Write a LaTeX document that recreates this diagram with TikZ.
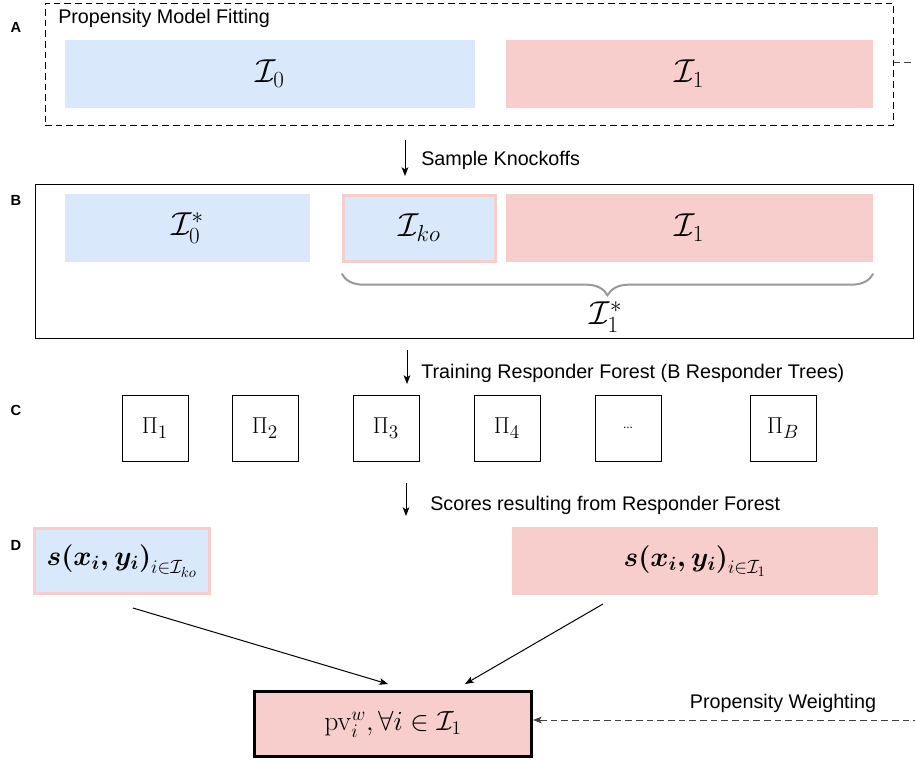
\documentclass[tikz,border=0pt]{standalone}
\usepackage[no-math]{fontspec}
\setmainfont{Liberation Sans}
\usepackage{amsmath,amssymb}
\usetikzlibrary{arrows.meta,decorations.pathreplacing}

\definecolor{kbblue}{HTML}{DAE8FC}
\definecolor{kbpink}{HTML}{F8CECC}
\definecolor{kbgrey}{HTML}{9A9A9A}

\begin{document}
\begin{tikzpicture}[x=0.75pt,y=-0.75pt,
  txt/.style={font=\fontsize{14.8}{17}\selectfont, inner sep=0pt},
  panellab/.style={font=\bfseries\fontsize{11}{13}\selectfont, inner sep=0pt},
  mathbig/.style={font=\fontsize{24}{28}\selectfont},
  bluebox/.style={fill=kbblue, draw=none, mathbig},
  pinkbox/.style={fill=kbpink, draw=none, mathbig},
  kobox/.style={fill=kbblue, draw=kbpink, line width=2.25pt, mathbig},
  pibox/.style={draw=black, line width=0.75pt, fill=white,
    minimum width=49.5pt, minimum height=49.5pt,
    font=\fontsize{19}{22}\selectfont},
  flow/.style={-{Stealth[length=6.5pt,width=5pt,inset=1.5pt]}, line width=0.75pt},
]
\clip (0,0) rectangle (915,761);
\fill[white] (0,0) rectangle (915,761);

% ---------- A: propensity model fitting ----------
\node[draw, dash pattern=on 5pt off 3pt, line width=0.75pt,
      minimum width=636pt, minimum height=91.5pt] (pA) at (469,64) {};
\node[panellab] (lA) at (16,27) {A};
\node[txt, anchor=west] (tA) at (58,18) {Propensity Model Fitting};
\node[bluebox, minimum width=307.5pt, minimum height=51pt] (a0) at (270,74) {$\mathcal{I}_0$};
\node[pinkbox, minimum width=275.25pt, minimum height=51pt] (a1) at (689.5,74) {$\mathcal{I}_1$};

% ---------- step arrow: knockoffs ----------
\coordinate (k1) at (405,140);
\coordinate (k2) at (405,176);
\draw[flow] (k1) -- (k2);
\node[txt, anchor=west] (tk) at (421,160) {Sample Knockoffs};

% ---------- B: knockoff sample ----------
\node[draw, line width=0.75pt, minimum width=658.5pt, minimum height=115.5pt] (pB) at (474,261) {};
\node[panellab] (lB) at (16,200) {B};
\node[bluebox, minimum width=183.75pt, minimum height=51pt] (b0) at (187.5,228) {$\mathcal{I}_0^*$};
\node[kobox, minimum width=114pt, minimum height=49.5pt] (bko) at (419.5,228) {$\mathcal{I}_{ko}$};
\node[pinkbox, minimum width=275.25pt, minimum height=51pt] (b1) at (689.5,228) {$\mathcal{I}_1$};
\coordinate (brL) at (342,274);
\coordinate (brR) at (873,274);
\draw[kbgrey, line width=1.5pt, line cap=round,
      decorate, decoration={brace, mirror, amplitude=16pt}] (brL) -- (brR);
\node[mathbig] (b1s) at (606,317) {$\mathcal{I}_1^*$};

% ---------- step arrow: training ----------
\coordinate (t1) at (407,350);
\coordinate (t2) at (407,384);
\draw[flow] (t1) -- (t2);
\node[txt, anchor=west] (tt) at (421,373) {Training Responder Forest (B Responder Trees)};

% ---------- C: responder trees ----------
\node[panellab] (lC) at (16,410) {C};
\node[pibox] (c1) at (155,428) {$\Pi_1$};
\node[pibox] (c2) at (265,428) {$\Pi_2$};
\node[pibox] (c3) at (386,428) {$\Pi_3$};
\node[pibox] (c4) at (507,428) {$\Pi_4$};
\node[pibox] (c5) at (628,428) {\fontsize{9}{10}\selectfont ...};
\node[pibox] (cB) at (783,428) {$\Pi_B$};

% ---------- step arrow: scores ----------
\coordinate (s1) at (406,483);
\coordinate (s2) at (406,516);
\draw[flow] (s1) -- (s2);
\node[txt, anchor=west] (ts) at (430,505) {Scores resulting from Responder Forest};

% ---------- D: scores and weighted p-values ----------
\node[panellab] (lD) at (16,545) {D};
\node[kobox, minimum width=131.25pt, minimum height=48.75pt, inner sep=1pt,
      font=\fontsize{21}{25}\selectfont] (dko) at (122,561)
  {$\boldsymbol{s(x_i,y_i)}_{i\in\mathcal{I}_{ko}}$};
\node[pinkbox, minimum width=274.5pt, minimum height=51pt,
      font=\fontsize{21}{25}\selectfont] (d1) at (695,561)
  {$\boldsymbol{s(x_i,y_i)}_{i\in\mathcal{I}_1}$};

\node[fill=kbpink, draw=black, line width=2.25pt, minimum width=207.75pt, minimum height=48.75pt,
      font=\fontsize{20}{24}\selectfont] (pv) at (393,724)
  {$\mathrm{pv}_i^w, \forall i \in \mathcal{I}_1$};

\coordinate (dl1) at (133,608);
\coordinate (dl2) at (388,684);
\coordinate (dr1) at (603,604);
\coordinate (dr2) at (465,684);
\draw[flow] (dl1) -- (dl2);
\draw[flow] (dr1) -- (dr2);

% ---------- propensity weighting feedback ----------
\coordinate (fw1) at (935,62);
\coordinate (fw2) at (935,720);
\draw[flow, dash pattern=on 5pt off 3pt, draw=black!75]
  (pA.east |- 0,62) -- (fw1) -- (fw2) -- (pv.east |- fw2);
\node[txt] (tw) at (783,703) {Propensity Weighting};
\end{tikzpicture}
\end{document}
